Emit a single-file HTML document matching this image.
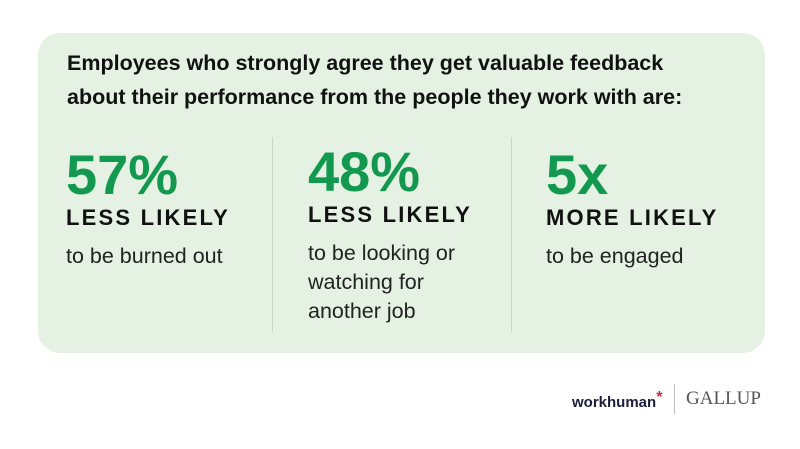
<!DOCTYPE html>
<html><head><style>
body{margin:0;width:800px;height:449px;background:#fff;font-family:"Liberation Sans",sans-serif;position:relative;overflow:hidden}
.card{position:absolute;left:38px;top:33px;width:727px;height:320px;background:#e5f2e3;border-radius:22px}
.t{position:absolute;left:67px;top:46px;font-size:21.5px;font-weight:bold;color:#111;line-height:34px}
.col{position:absolute;top:148px}
.n{font-size:56px;font-weight:bold;color:#12994f;line-height:54px}
.l{font-size:22px;font-weight:bold;color:#111;letter-spacing:2.2px;margin-top:3px}
.d{font-size:21.5px;color:#222;line-height:29px;margin-top:11px}
.v{position:absolute;top:137px;width:1px;height:195px;background:#c8d6c6}
</style></head><body>
<div class="card"></div>
<div class="t">Employees who strongly agree they get valuable feedback<br>about their performance from the people they work with are:</div>
<div class="col" style="left:66px"><div class="n">57%</div><div class="l">LESS LIKELY</div><div class="d">to be burned out</div></div>
<div class="v" style="left:272px"></div>
<div class="col" style="left:308px;top:145px"><div class="n">48%</div><div class="l">LESS LIKELY</div><div class="d">to be looking or<br>watching for<br>another job</div></div>
<div class="v" style="left:511px"></div>
<div class="col" style="left:546px"><div class="n">5x</div><div class="l">MORE LIKELY</div><div class="d">to be engaged</div></div>
<div style="position:absolute;left:572px;top:389px;font-size:15px;font-weight:bold;color:#1b1f3b">workhuman<span style="color:#d0243c;font-size:16px;vertical-align:5px">*</span></div>
<div style="position:absolute;left:674px;top:384px;width:1px;height:30px;background:#bbb"></div>
<div style="position:absolute;left:686px;top:388px;font-family:'Liberation Serif',serif;font-size:19px;color:#555">GALLUP</div>
</body></html>
